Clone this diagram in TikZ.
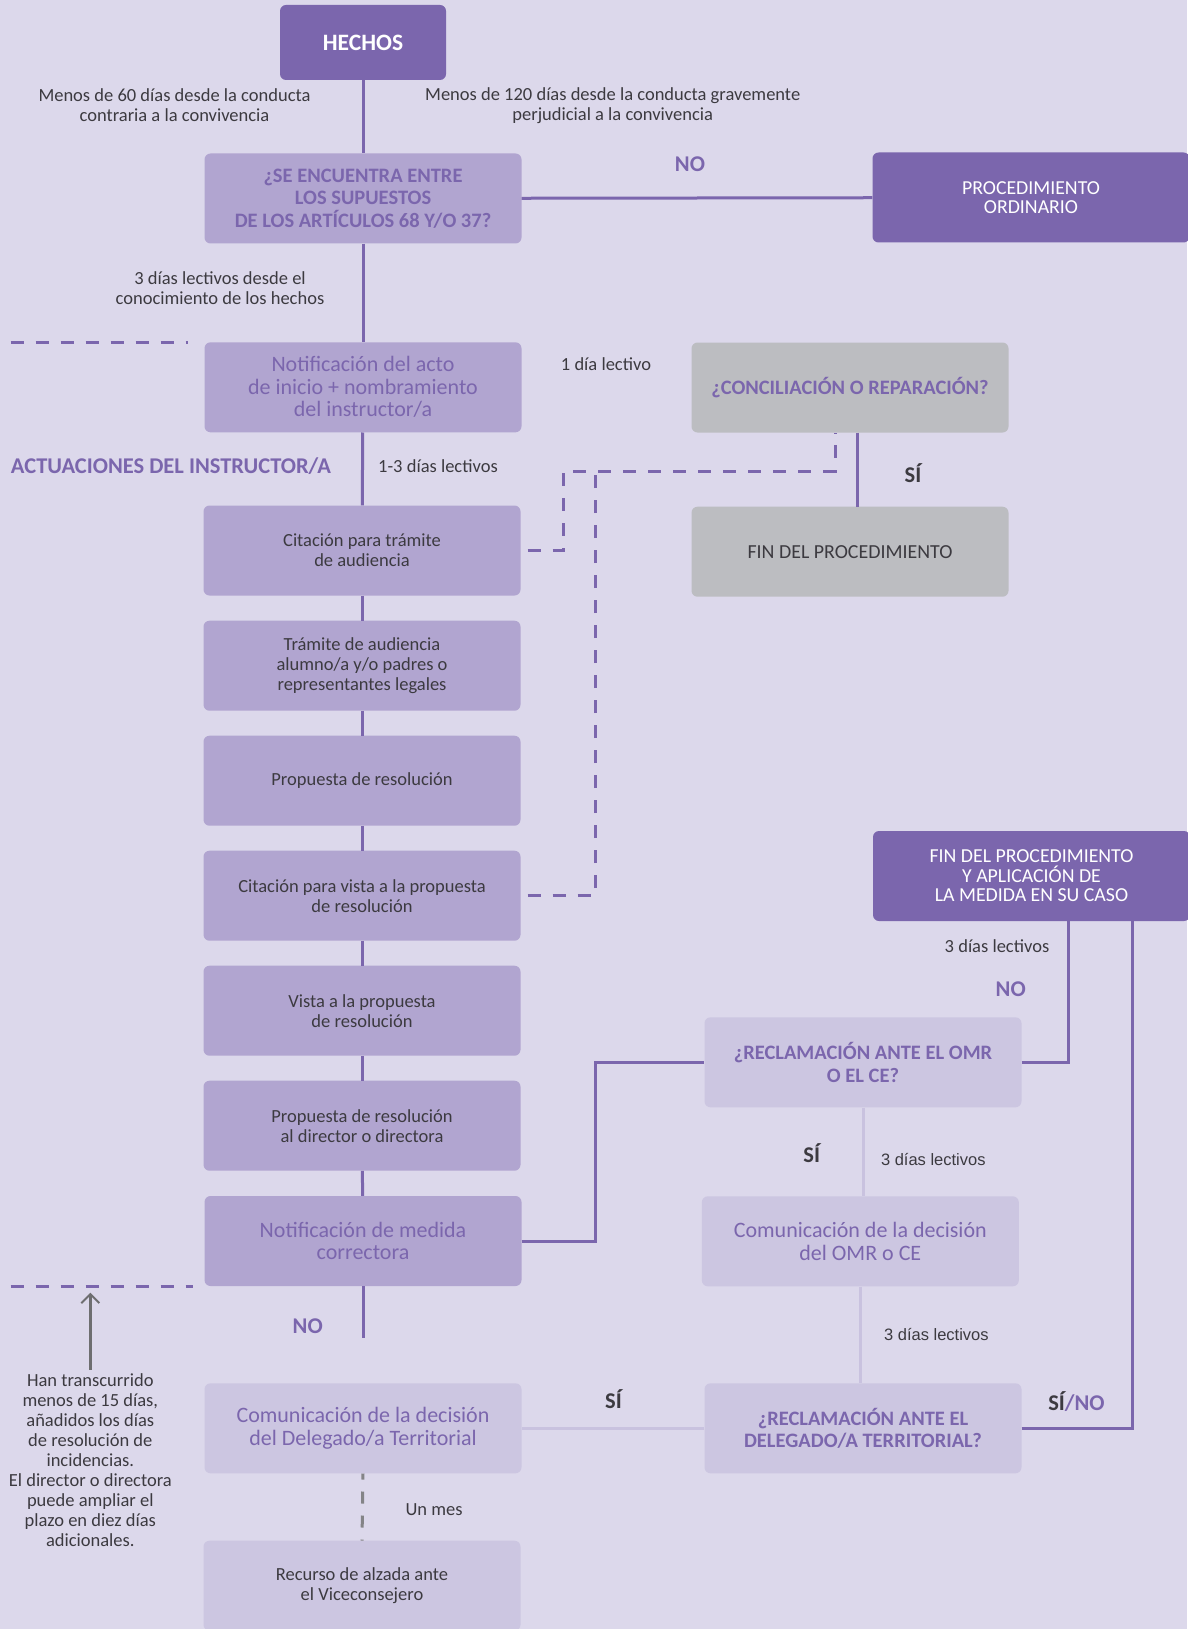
\documentclass[tikz,border=0pt]{standalone}
\usepackage{fontspec}
\setmainfont{Carlito}
\newfontfamily\arialfont{Liberation Sans}
\usetikzlibrary{positioning, arrows.meta}

\definecolor{fondo}{RGB}{220,216,235}
\definecolor{morado}{RGB}{123,102,173}
\definecolor{medio}{RGB}{177,165,208}
\definecolor{claro}{RGB}{204,198,225}
\definecolor{gris}{RGB}{188,189,193}
\definecolor{oscuro}{RGB}{60,58,64}
\definecolor{grisflecha}{RGB}{110,110,112}

\tikzset{
    caja/.style={rounded corners=6pt, minimum width=317pt, minimum height=90pt, align=center, inner sep=0pt},
    cajaoscura/.style={caja, fill=morado, text=white},
    cajamedia/.style={caja, fill=medio},
    cajaclara/.style={caja, fill=claro},
    cajagris/.style={caja, fill=gris},
    nota/.style={align=center, text=oscuro, font=\fontsize{18.5}{20}\selectfont},
    titulo/.style={text=morado, font=\fontsize{22}{22.5}\selectfont},
    pregunta/.style={text=morado, font=\fontsize{20.5}{22.5}\selectfont\bfseries},
    etiqueta/.style={font=\fontsize{22.5}{24}\selectfont\bfseries},
    linea/.style={draw=morado, line width=3pt},
    lineaclara/.style={draw=claro!96!morado, line width=3pt},
    discontinua/.style={draw=morado, line width=3pt, dash pattern=on 13pt off 12pt},
}

\begin{document}
\begin{tikzpicture}[x=1pt, y=-1pt]
        \fill[fondo] (0,0) rectangle (1187,1629);
        \useasboundingbox (0,0) rectangle (1187,1629);

        % Columna principal
        \node[cajaoscura, minimum width=166pt, minimum height=75pt, font=\fontsize{23.5}{26}\selectfont\bfseries] (hechos) at (363, 42.5) {HECHOS};
        \node[cajamedia, pregunta] (supuestos) at (363, 198.5) {¿SE ENCUENTRA ENTRE\\LOS SUPUESTOS\\DE LOS ARTÍCULOS 68 Y/O 37?};
        \node[cajamedia, titulo] (notinicio) at (363, 387.3) {Notificación del acto\\de inicio + nombramiento\\del instructor/a};
        \node[cajamedia, nota] (citaudiencia) at (362, 550.5) {Citación para trámite\\de audiencia};
        \node[cajamedia, nota] (tramite) at (362, 665.7) {Trámite de audiencia\\alumno/a y/o padres o\\representantes legales};
        \node[cajamedia, nota] (propuesta) at (362, 780.7) {Propuesta de resolución};
        \node[cajamedia, nota] (citvista) at (362, 895.7) {Citación para vista a la propuesta\\de resolución};
        \node[cajamedia, nota] (vista) at (362, 1010.7) {Vista a la propuesta\\de resolución};
        \node[cajamedia, nota] (propdirector) at (362, 1125.7) {Propuesta de resolución\\al director o directora};
        \node[cajamedia, titulo] (notmedida) at (363, 1241) {Notificación de medida\\correctora};
        \node[cajaclara, titulo] (comdelegado) at (363, 1428.3) {Comunicación de la decisión\\del Delegado/a Territorial};
        \node[cajaclara, nota] (recurso) at (362, 1585.7) {Recurso de alzada ante\\el Viceconsejero};

        % Columna derecha
        \node[cajaoscura, font=\fontsize{19.8}{19.5}\selectfont] (ordinario) at (1031, 197.5) {PROCEDIMIENTO\\ORDINARIO};
        \node[cajagris, pregunta] (conciliacion) at (850, 387.5) {¿CONCILIACIÓN O REPARACIÓN?};
        \node[cajagris, nota, font=\fontsize{19.9}{20}\selectfont] (finproc) at (850, 551.7) {FIN DEL PROCEDIMIENTO};
        \node[cajaoscura, font=\fontsize{19.8}{19.5}\selectfont] (finaplic) at (1031.5, 876) {FIN DEL PROCEDIMIENTO\\Y APLICACIÓN DE\\LA MEDIDA EN SU CASO};
        \node[cajaclara, pregunta] (recomr) at (863, 1062.3) {¿RECLAMACIÓN ANTE EL OMR\\O EL CE?};
        \node[cajaclara, titulo] (comomr) at (860.3, 1241.3) {Comunicación de la decisión\\del OMR o CE};
        \node[cajaclara, pregunta] (recdelegado) at (863, 1428.3) {¿RECLAMACIÓN ANTE EL\\DELEGADO/A TERRITORIAL?};

        % Plazos y notas
        \node[nota] (n60) at (174.5, 105.5) {Menos de 60 días desde la conducta\\contraria a la convivencia};
        \node[nota] (n120) at (612.7, 105.5) {Menos de 120 días desde la conducta gravemente\\perjudicial a la convivencia};
        \node[nota] (n3dias) at (220, 288) {3 días lectivos desde el\\conocimiento de los hechos};
        \node[nota] (n1dia) at (606, 364) {1 día lectivo};
        \node[nota] (n13) at (438, 465.7) {1-3 días lectivos};
        \node[text=morado, anchor=west, font=\fontsize{22.5}{24}\selectfont\bfseries, inner sep=0pt] (actuaciones) at (10.7, 465.7) {ACTUACIONES DEL INSTRUCTOR/A};
        \node[nota] (n3a) at (997, 945.7) {3 días lectivos};
        \node[nota, font=\arialfont\fontsize{16.5}{20}\selectfont] (n3b) at (933.3, 1159) {3 días lectivos};
        \node[nota, font=\arialfont\fontsize{16.5}{20}\selectfont] (n3c) at (936.4, 1334) {3 días lectivos};
        \node[nota] (unmes) at (434, 1509.3) {Un mes};
        \node[nota] (aviso) at (90.3, 1459.7) {Han transcurrido\\menos de 15 días,\\añadidos los días\\de resolución de\\incidencias.\\El director o directora\\puede ampliar el\\plazo en diez días\\adicionales.};

        % Respuestas
        \node[etiqueta, text=morado] (no1) at (690, 164) {NO};
        \node[etiqueta, text=oscuro] (si1) at (913, 472.7) {SÍ};
        \node[etiqueta, text=morado] (no2) at (1010.7, 989.3) {NO};
        \node[etiqueta, text=oscuro] (si2) at (811.7, 1153.3) {SÍ};
        \node[etiqueta, text=morado] (no3) at (307.7, 1326) {NO};
        \node[etiqueta, text=oscuro] (si3) at (613.5, 1399) {SÍ};
        \node[etiqueta, text=oscuro] (sino) at (1076.5, 1401.7) {SÍ\textcolor{morado}{/NO}};

        % Puntos de paso
        \coordinate (finno) at (363, 1337.7);
        \coordinate (cruce) at (563, 471);
        \coordinate (cruce2) at (595, 471);
        \coordinate (giroomr) at (595.5, 1062.3);

        % Conexiones principales
        \draw[linea] (hechos) -- (supuestos);
        \draw[linea] (supuestos) -- (ordinario);
        \draw[linea] (supuestos) -- (notinicio);
        \draw[linea] (notinicio) -- (citaudiencia);
        \draw[linea] (citaudiencia) -- (tramite);
        \draw[linea] (tramite) -- (propuesta);
        \draw[linea] (propuesta) -- (citvista);
        \draw[linea] (citvista) -- (vista);
        \draw[linea] (vista) -- (propdirector);
        \draw[linea] (propdirector) -- (notmedida);
        \draw[linea] (notmedida.south) -- (finno);
        \draw[linea] ([xshift=7pt]conciliacion.south) -- ([xshift=7pt]finproc.north);

        % Conciliacion
        \draw[discontinua] ([xshift=7pt]citaudiencia.east) -| (cruce) -| ([xshift=-15pt]conciliacion.south);
        \draw[discontinua] ([xshift=7pt]citvista.east) -| (cruce2);

        % Reclamaciones
        \draw[linea] (notmedida.east) -| (giroomr) -- (recomr.west);
        \draw[linea] (recomr.east) -| ([xshift=37pt]finaplic.south);
        \draw[linea] (recdelegado.east) -| ([xshift=101pt]finaplic.south);
        \draw[lineaclara] (recomr.south) -- (recomr.south |- comomr.north);
        \draw[lineaclara] (comomr.south) -- (comomr.south |- recdelegado.north);
        \draw[lineaclara] (recdelegado.west) -- (comdelegado.east);
        \draw[draw=gris!70!black, line width=3pt, dash pattern=on 12pt off 12pt, dash phase=6pt] (comdelegado.south) -- (recurso.north);

        % Separadores
        \draw[discontinua] (10.7, 342.5) -- (188.3, 342.5);
        \draw[discontinua] (10.7, 1286.7) -- (192.5, 1286.7);
        \draw[grisflecha, line width=2.5pt, -{Straight Barb[length=9pt, width=18pt, line width=2pt]}] (aviso.north) -- (90.3, 1292.7);
    \end{tikzpicture}
\end{document}
